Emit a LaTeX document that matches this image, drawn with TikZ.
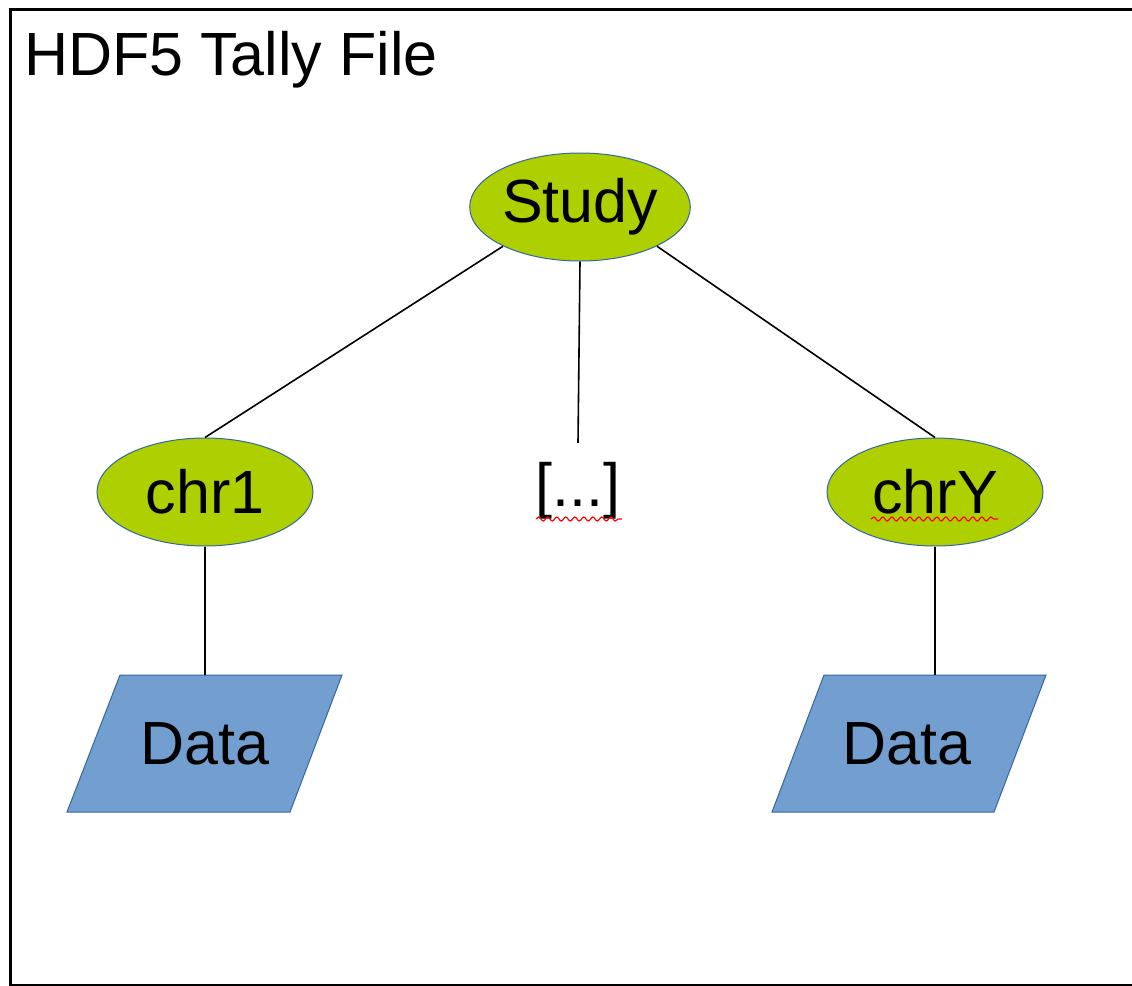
\documentclass[tikz,border=0pt]{standalone}
\usepackage{fontspec}
\setmainfont{Liberation Sans}
\usetikzlibrary{shapes.geometric,decorations.pathmorphing}
\definecolor{ygreen}{HTML}{AECF00}
\definecolor{dblue}{HTML}{729FCF}
\definecolor{bline}{HTML}{3465A4}
\tikzset{
  bigfont/.style={font=\fontsize{61}{63}\selectfont},
  group/.style={ellipse, draw=bline, line width=1pt, fill=ygreen, minimum width=216pt, minimum height=108pt, inner sep=0pt, bigfont},
  paral/.style={draw=bline, line width=1pt, fill=dblue},
  datatext/.style={rectangle, minimum width=170pt, minimum height=137pt, inner sep=0pt, bigfont},
  link/.style={draw=black, line width=1.6pt},
  squig/.style={draw=red, line width=1.2pt, decorate, decoration={snake, segment length=9pt, amplitude=2pt}}
}
\begin{document}
\begin{tikzpicture}[x=1pt,y=-1pt]
\useasboundingbox (0,0) rectangle (1132,985);
\begin{scope}
\clip (0,0) rectangle (1132,985);
\draw[line width=3pt] (10,9) rectangle (1150,985);
\end{scope}
\node[anchor=base west, bigfont, inner sep=0pt] (title) at (24,75) {HDF5 Tally File};
\draw[paral] (120,675) -- (342,675) -- (290,812) -- (67,812) -- cycle;
\draw[paral] (824,675) -- (1046,675) -- (994,812) -- (772,812) -- cycle;
\node[group] (study) at (580,207) {Study};
\node[group] (chr1) at (205,492) {chr1};
\node[group] (chrY) at (935,492) {chrY};
\node[bigfont, inner sep=0pt, minimum height=96pt] (dots) at (578,491) {[...]};
\node[datatext] (data1) at (205,743.5) {Data};
\node[datatext] (data2) at (907,743.5) {Data};
\draw[link] (study.207) -- (chr1.north);
\draw[link] (study.333) -- (chrY.north);
\draw[link] (study.south) -- (dots.north);
\draw[link] (chr1.south) -- (data1.north);
\draw[link] (chrY.south) -- (chrY.south |- data2.north);
\coordinate (sq1a) at (536,519);
\coordinate (sq1b) at (622,519);
\coordinate (sq2a) at (871,519);
\coordinate (sq2b) at (998,519);
\draw[squig] (sq1a) -- (sq1b);
\draw[squig] (sq2a) -- (sq2b);
\end{tikzpicture}
\end{document}
